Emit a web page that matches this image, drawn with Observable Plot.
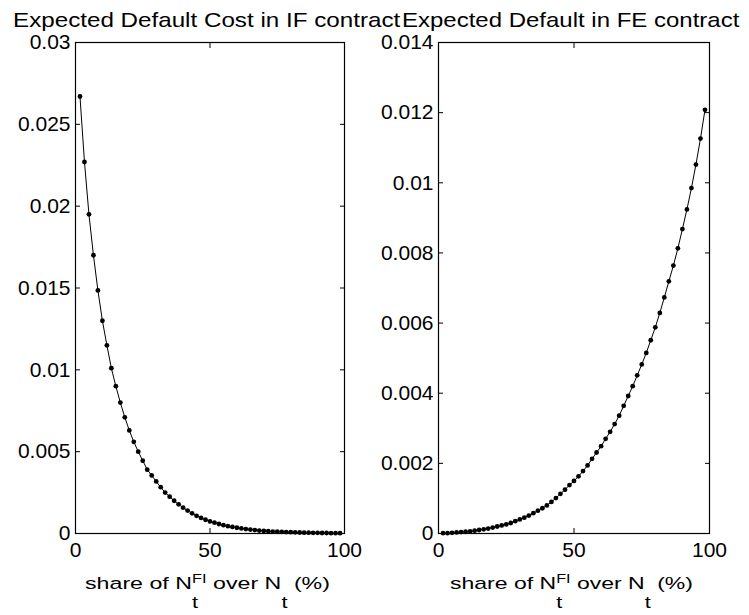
<!DOCTYPE html>
<html><head><meta charset="utf-8">
<script src="https://cdn.jsdelivr.net/npm/d3@7"></script>
<script src="https://cdn.jsdelivr.net/npm/@observablehq/plot@0.6"></script>
<style>
html,body{margin:0;padding:0;background:#fff;}
#chart{position:relative;width:749px;height:615px;overflow:hidden;background:#fff;}
#chart svg{position:absolute;left:0;top:0;}
</style></head><body><div id="chart"></div>
<script>
// share of N^FI over N (%)
const share = [1.67,3.33,5,6.67,8.33,10,11.67,13.33,15,16.67,18.33,20,21.67,23.33,25,26.67,28.33,30,31.67,33.33,35,36.67,38.33,40,41.67,43.33,45,46.67,48.33,50,51.67,53.33,55,56.67,58.33,60,61.67,63.33,65,66.67,68.33,70,71.67,73.33,75,76.67,78.33,80,81.67,83.33,85,86.67,88.33,90,91.67,93.33,95,96.67,98.33];
// Expected Default Cost in IF contract
const ifCost = [0.0267,0.0227,0.0195,0.0170,0.01485,0.0130,0.0115,0.0101,0.0090,0.0080,0.0071,0.0063,0.0056,0.0050,0.00445,0.0039,0.00355,0.00318,0.00283,0.00250,0.00225,0.00200,0.00178,0.00158,0.00140,0.00123,0.00108,0.00095,0.00084,0.00074,0.00066,0.00058,0.00051,0.00045,0.00040,0.00035,0.00031,0.00027,0.00024,0.00021,0.00018,0.00016,0.00014,0.00012,0.00011,0.00010,0.00009,0.00008,0.00007,0.00006,0.00005,0.00005,0.00004,0.00004,0.00003,0.00003,0.00002,0.00002,0.00002];
// Expected Default in FE contract
const feDefault = [0.00001,0.00001,0.00002,0.00003,0.00004,0.00005,0.00006,0.00008,0.00010,0.00012,0.00014,0.00017,0.00020,0.00023,0.00026,0.00030,0.00035,0.00040,0.00045,0.00051,0.00058,0.00065,0.00072,0.00080,0.00090,0.00101,0.00113,0.00125,0.00138,0.00150,0.00163,0.00178,0.00194,0.00213,0.00231,0.00249,0.00270,0.00290,0.00312,0.00336,0.00364,0.00392,0.00420,0.00451,0.00482,0.00515,0.00551,0.00588,0.00629,0.00673,0.00719,0.00764,0.00813,0.00868,0.00924,0.00985,0.01052,0.01126,0.01208];

const xTicks = [0, 50, 100];
const xTickLabels = ["0", "50", "100"];
const ifTicks = [0, 0.005, 0.01, 0.015, 0.02, 0.025, 0.03];
const ifTickLabels = ["0", "0.005", "0.01", "0.015", "0.02", "0.025", "0.03"];
const feTicks = [0, 0.002, 0.004, 0.006, 0.008, 0.01, 0.012, 0.014];
const feTickLabels = ["0", "0.002", "0.004", "0.006", "0.008", "0.01", "0.012", "0.014"];

const titleLeft = "Expected Default Cost in IF contract";
const titleRight = "Expected Default in FE contract";

const FONT = "'Liberation Sans', Arial, sans-serif";

function panel(values, yDomain, yTicks, yLabels, ml, mr) {
  const data = share.map((x, i) => ({x, y: values[i]}));
  const xMap = new Map(xTicks.map((t, i) => [t, xTickLabels[i]]));
  const yMap = new Map(yTicks.map((t, i) => [t, yLabels[i]]));
  return Plot.plot({
    width: 749, height: 615,
    marginLeft: ml, marginRight: mr, marginTop: 42, marginBottom: 82,
    style: {fontFamily: FONT, fontSize: "21px", color: "#000", background: "transparent", overflow: "visible"},
    x: {domain: [0, 100], label: null},
    y: {domain: yDomain, label: null},
    marks: [
      Plot.frame({stroke: "#000", strokeWidth: 1.2}),
      Plot.axisX(xTicks, {anchor: "bottom", tickSize: -5, tickPadding: 14, tickFormat: d => xMap.get(d), label: null, fontSize: 21}),
      Plot.axisX(xTicks, {anchor: "top", tickSize: -5, tickFormat: () => "", label: null}),
      Plot.axisY(yTicks, {anchor: "left", tickSize: -5, tickPadding: 10, tickFormat: d => yMap.get(d), label: null, fontSize: 21}),
      Plot.axisY(yTicks, {anchor: "right", tickSize: -5, tickFormat: () => "", label: null}),
      Plot.line(data, {x: "x", y: "y", stroke: "#000", strokeWidth: 1}),
      Plot.dot(data, {x: "x", y: "y", r: 2.4, fill: "#000", stroke: null})
    ]
  });
}

const chart = document.getElementById("chart");
chart.append(panel(ifCost, [0, 0.03], ifTicks, ifTickLabels, 75, 749 - 344));
chart.append(panel(feDefault, [0, 0.014], feTicks, feTickLabels, 438, 749 - 709));

// Overlay for titles and axis labels
const ov = d3.select(chart).append("svg")
  .attr("width", 749).attr("height", 615)
  .style("font-family", FONT).style("fill", "#000");

function fit(g, left, right, baseline) {
  const bb = g.node().getBBox();
  const s = (right - left) / bb.width;
  g.attr("transform", `translate(${left - bb.x * s},${baseline}) scale(${s},1)`);
}

function plain(str, size, left, right, baseline) {
  const g = ov.append("g");
  g.append("text").attr("font-size", size).style("white-space", "pre").text(str);
  fit(g, left, right, baseline);
}

function rich(parts, left, right, baseline) {
  const g = ov.append("g");
  let x = 0;
  for (const p of parts) {
    const items = p.stack || [p];
    let w = 0;
    for (const q of items) {
      const t = g.append("text").attr("x", x).attr("y", q.dy || 0)
        .attr("font-size", q.size).style("white-space", "pre").text(q.t);
      w = Math.max(w, t.node().getComputedTextLength());
    }
    x += w;
  }
  fit(g, left, right, baseline);
}

plain(titleLeft, 20, 13, 401, 27);
plain(titleRight, 20, 402, 740, 27);

const xlabParts = [
  {t: "share of N", size: 17},
  {stack: [{t: "FI", size: 12, dy: -6}, {t: "t", size: 16, dy: 19}]},
  {t: " over N", size: 17},
  {t: "t", size: 16, dy: 19},
  {t: " (%)", size: 17}
];
rich(xlabParts, 85, 330, 589);
rich(xlabParts, 450, 693, 589);
</script></body></html>
